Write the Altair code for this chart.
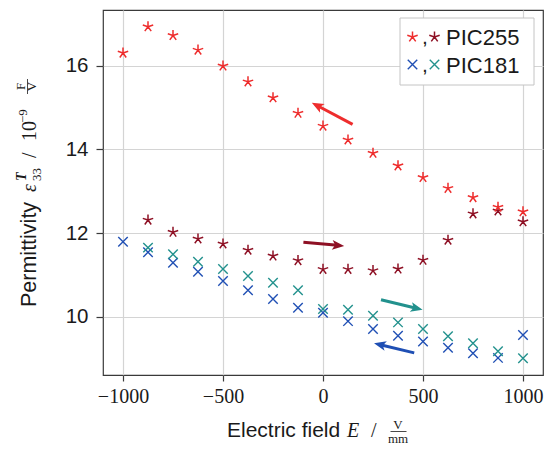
import altair as alt
import pandas as pd
import numpy as np

# ---------------- data ----------------
E_all = [-1000, -875, -750, -625, -500, -375, -250, -125, 0, 125, 250, 375, 500, 625, 750, 875, 1000]
E_up = [-875, -750, -625, -500, -375, -250, -125, 0, 125, 250, 375, 500, 625, 750, 875, 1000]

pic255_bright = [16.31, 16.94, 16.73, 16.38, 16.00, 15.62, 15.24, 14.87, 14.56, 14.23, 13.91, 13.61, 13.33, 13.07, 12.85, 12.62, 12.51]
pic255_dark = [12.31, 12.02, 11.86, 11.74, 11.59, 11.45, 11.34, 11.13, 11.13, 11.10, 11.14, 11.35, 11.83, 12.46, 12.53, 12.27]
pic181_blue = [11.79, 11.54, 11.29, 11.07, 10.85, 10.63, 10.42, 10.21, 10.09, 9.89, 9.70, 9.54, 9.40, 9.25, 9.12, 9.01, 9.56]
pic181_teal = [11.65, 11.49, 11.31, 11.14, 10.97, 10.81, 10.63, 10.18, 10.16, 10.02, 9.86, 9.70, 9.53, 9.36, 9.17, 9.00]

arrow_tail_E = [148, -98, 290, 456]
arrow_tail_v = [14.60, 11.78, 10.40, 9.13]
arrow_head_E = [-56, 106, 498, 255]
arrow_head_v = [15.12, 11.69, 10.16, 9.36]

x_ticks = [-1000, -500, 0, 500, 1000]
y_ticks = [10, 12, 14, 16]
legend_labels = ["PIC255", "PIC181"]

# ---------------- style ----------------
C_BRIGHT = "#ee2d2d"
C_DARK = "#8e1024"
C_BLUE = "#1f4fb4"
C_TEAL = "#22918d"
arrow_colors = [C_BRIGHT, C_DARK, C_TEAL, C_BLUE]

STAR = "M0,0L0,-1M0,0L0.951,-0.309M0,0L0.588,0.809M0,0L-0.588,0.809M0,0L-0.951,-0.309"
CROSS = "M-1,-1L1,1M-1,1L1,-1"
HEAD = "M0,-1L0.75,0.85L0,0.4L-0.75,0.85Z"

W, H = 440, 365
X_DOM = [-1100, 1100]
Y_DOM = [8.6, 17.34]
X_SCALE = alt.Scale(domain=X_DOM, nice=False, zero=False)
Y_SCALE = alt.Scale(domain=Y_DOM, nice=False, zero=False)

x_axis = alt.Axis(values=x_ticks, title=None, format="d", labelFont="Liberation Serif",
                  labelFontSize=20, labelPadding=5, tickSize=6, grid=True)
y_axis = alt.Axis(values=y_ticks, title=None, format="d", labelFont="Liberation Sans",
                  labelFontSize=20.5, labelPadding=8, tickSize=7, grid=True)


def series(E, vals, color, shape, size, sw):
    df = pd.DataFrame({"E": E, "eps": vals})
    return alt.Chart(df).mark_point(shape=shape, filled=False, color=color, size=size,
                                    strokeWidth=sw, opacity=1).encode(
        x=alt.X("E:Q", scale=X_SCALE, axis=x_axis),
        y=alt.Y("eps:Q", scale=Y_SCALE, axis=y_axis),
    )


layers = [
    series(E_all, pic181_blue, C_BLUE, CROSS, 90, 1.4),
    series(E_up, pic181_teal, C_TEAL, CROSS, 90, 1.4),
    series(E_up, pic255_dark, C_DARK, STAR, 120, 1.5),
    series(E_all, pic255_bright, C_BRIGHT, STAR, 120, 1.5),
]

# arrows
sx = W / (X_DOM[1] - X_DOM[0])
sy = H / (Y_DOM[1] - Y_DOM[0])
r_head = 6.5
rows = []
for x0, y0, x1, y1, c in zip(arrow_tail_E, arrow_tail_v, arrow_head_E, arrow_head_v, arrow_colors):
    dx = (x1 - x0) * sx
    dy = -(y1 - y0) * sy
    L = np.hypot(dx, dy)
    ux, uy = dx / L, dy / L
    ang = (np.degrees(np.arctan2(dx, -dy)) + 360) % 360
    cx = x1 - ux * r_head / sx
    cy = y1 + uy * r_head / sy
    rows.append({"x0": x0, "y0": y0, "cx": cx, "cy": cy, "ang": ang, "col": c})
adf = pd.DataFrame(rows)

layers.append(alt.Chart(adf).mark_rule(strokeWidth=3).encode(
    x=alt.X("x0:Q", scale=X_SCALE, axis=x_axis), y=alt.Y("y0:Q", scale=Y_SCALE, axis=y_axis),
    x2="cx:Q", y2="cy:Q", color=alt.Color("col:N", scale=None)))
layers.append(alt.Chart(adf).mark_point(shape=HEAD, filled=True, size=169, opacity=1).encode(
    x=alt.X("cx:Q", scale=X_SCALE, axis=x_axis), y=alt.Y("cy:Q", scale=Y_SCALE, axis=y_axis),
    angle=alt.Angle("ang:Q", scale=None), color=alt.Color("col:N", scale=None)))

one = pd.DataFrame({"k": [0]})


def txt(s, x, y, size, font="Liberation Sans", style="normal", weight="normal",
        angle=0, align="left", baseline="alphabetic"):
    kw = dict(text=s, font=font, fontSize=size, fontStyle=style, fontWeight=weight,
              align=align, baseline=baseline, color="#1a1a1a")
    if angle:
        kw["angle"] = angle
    return alt.Chart(one).mark_text(**kw).encode(x=alt.value(x), y=alt.value(y))


def sym(shape, color, x, y, size, sw):
    return alt.Chart(one).mark_point(shape=shape, filled=False, color=color, size=size,
                                     strokeWidth=sw, opacity=1).encode(
        x=alt.value(x), y=alt.value(y))


# legend
layers.append(alt.Chart(one).mark_rect(fill="white", stroke="#c4c4c4", strokeWidth=1).encode(
    x=alt.value(297), x2=alt.value(431), y=alt.value(8), y2=alt.value(75)))
layers += [
    sym(STAR, C_BRIGHT, 309.5, 27, 120, 1.5),
    txt(",", 319, 34, 21),
    sym(STAR, C_DARK, 331.5, 27, 120, 1.5),
    txt(legend_labels[0], 343, 34.5, 22),
    sym(CROSS, C_BLUE, 309.5, 54.5, 90, 1.4),
    txt(",", 319, 62, 21),
    sym(CROSS, C_TEAL, 331.5, 54.5, 90, 1.4),
    txt(legend_labels[1], 343, 62.5, 22),
]

# y axis title (rotated, composed)
SERIF = "Liberation Serif"
layers += [
    txt("Permittivity", -67, 297, 21.5, angle=270),
    txt("ε", -67, 182, 20, font=SERIF, style="italic", angle=270),
    txt("33", -62, 171, 13, font=SERIF, angle=270),
    txt("T", -77, 171, 14, font=SERIF, style="italic", weight="bold", angle=270),
    txt("/", -67, 148, 20, font=SERIF, angle=270),
    txt("10", -67, 131, 20, font=SERIF, angle=270),
    txt("−9", -76, 113, 13, font=SERIF, angle=270),
    txt("F", -78, 76.5, 13, font=SERIF, angle=270, align="center"),
    alt.Chart(one).mark_rule(color="#1a1a1a", strokeWidth=0.8).encode(
        x=alt.value(-75.5), y=alt.value(69), y2=alt.value(84)),
    txt("V", -67, 76.5, 13, font=SERIF, angle=270, align="center"),
]

# x axis title (composed)
layers += [
    txt("Electric field", 124, 426.5, 21),
    txt("E", 244, 426.5, 20, font=SERIF, style="italic"),
    txt("/", 268, 426.5, 20, font=SERIF),
    txt("V", 295, 418.5, 13, font=SERIF, align="center"),
    alt.Chart(one).mark_rule(color="#1a1a1a", strokeWidth=0.8).encode(
        x=alt.value(287.5), x2=alt.value(303.5), y=alt.value(421.5)),
    txt("mm", 295, 432.5, 13, font=SERIF, align="center"),
]

chart = alt.layer(*layers).properties(
    width=W, height=H,
    autosize=alt.AutoSizeParams(type="none"),
    padding={"left": 95, "top": 2, "right": 1, "bottom": 69},
).configure_view(
    stroke="#3a3a3a", strokeWidth=1.2
).configure_axis(
    gridColor="#d4d4d4", gridWidth=1.2, tickColor="#3a3a3a", tickWidth=1.2,
    domain=False, labelColor="#1a1a1a"
)

chart.save("out.html", embed_options={"renderer": "svg", "actions": False})
